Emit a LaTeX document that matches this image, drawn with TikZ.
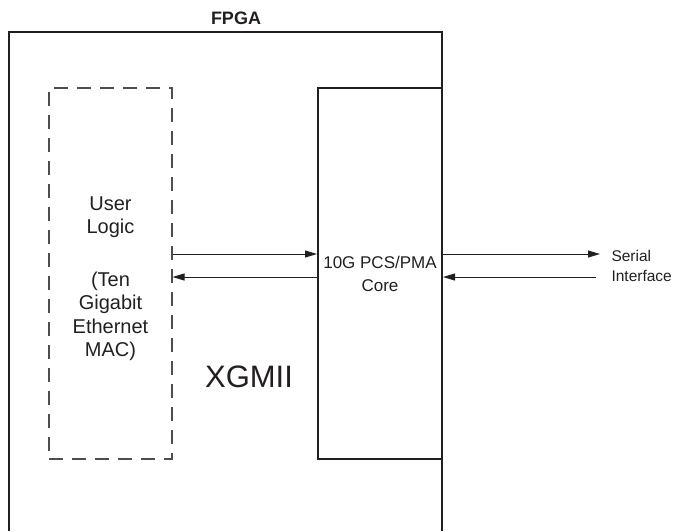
\documentclass[tikz,border=0pt]{standalone}
\usepackage{fontspec}
\setmainfont{Liberation Sans}
\usepackage{xcolor}
\usetikzlibrary{arrows.meta, positioning}
\definecolor{ink}{HTML}{231F20}

\begin{document}
\begin{tikzpicture}[x=1pt, y=-1pt,
    frame/.style={draw=ink, line width=2pt},
    userbox/.style={
        draw=ink!80, line width=1.1pt, dash pattern=on 14pt off 9pt,
        minimum width=123pt, minimum height=371pt, inner sep=0pt
    },
    corebox/.style={
        frame, minimum width=124pt, minimum height=371pt, inner sep=0pt,
        align=center, font=\fontsize{17}{23}\selectfont, text=ink
    },
    arrow/.style={-{Triangle[length=12pt, width=7pt]}, line width=1pt, draw=ink},
    label/.style={font=\fontsize{20}{23.5}\selectfont, align=center, text=ink}
]
\useasboundingbox (0,0) rectangle (681,531);

% FPGA frame (open at the bottom)
\draw[frame] (9,531) -- (9,32) -- (442,32) -- (442,531);
\node[font=\fontsize{18}{20}\selectfont\bfseries, text=ink] (fpga) at (236,18.5) {FPGA};

% Blocks
\node[userbox] (userlogic) at (110.5,273.5) {};
\node[label] (userlabel) at ([yshift=-5pt]userlogic.center)
    {User\\Logic\\[29pt](Ten\\Gigabit\\Ethernet\\MAC)};
\node[corebox] (core) at (380,273.5) {10G PCS/PMA\\Core};
\node[font=\fontsize{31}{34}\selectfont, text=ink] (xgmii) at (249,376.5) {XGMII};

% Serial side
\node[font=\fontsize{15.5}{20}\selectfont, align=left, anchor=west, text=ink]
    (serial) at (608,266) {Serial\\Interface};
\coordinate (serout) at (600,254);
\coordinate (serin) at (596,277);

% Arrows
\draw[arrow] ([yshift=19.5pt]userlogic.east) -- ([yshift=19.5pt]core.west);
\draw[arrow] ([yshift=-3.5pt]core.west) -- ([yshift=-3.5pt]userlogic.east);
\draw[arrow] ([yshift=19.5pt]core.east) -- (serout);
\draw[arrow] (serin) -- ([yshift=-3.5pt]core.east);

\end{tikzpicture}
\end{document}
